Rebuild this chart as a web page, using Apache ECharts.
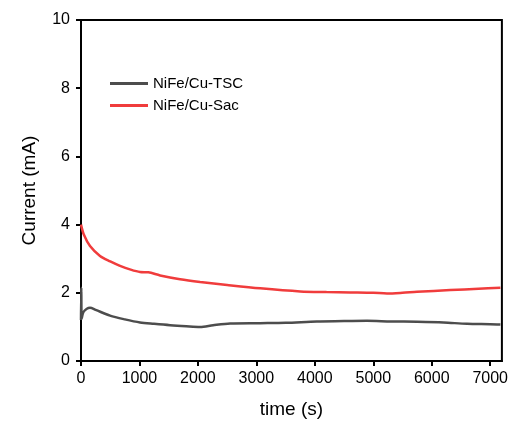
<!DOCTYPE html>
<html>
<head>
<meta charset="utf-8">
<script src="https://cdn.jsdelivr.net/npm/echarts@6/dist/echarts.min.js"></script>
<style>
  html, body { margin: 0; padding: 0; background: #fff; }
  #chart { width: 511px; height: 424px; }
</style>
</head>
<body>
<div id="chart"></div>
<script>
// values
var seriesNames = ['NiFe/Cu-TSC', 'NiFe/Cu-Sac'];
var tscData = [
  [0, 1.2], [5, 2.15], [12, 1.25], [40, 1.43], [100, 1.53], [154, 1.56], [250, 1.5],
  [497, 1.33], [750, 1.22], [1010, 1.13], [1250, 1.09], [1524, 1.05],
  [1800, 1.02], [2038, 1.0], [2260, 1.05], [2551, 1.1], [3065, 1.11],
  [3500, 1.12], [4036, 1.16], [4500, 1.17], [4892, 1.18], [5300, 1.16],
  [5748, 1.15], [6200, 1.13], [6604, 1.09], [7000, 1.08], [7175, 1.07]
];
var sacData = [
  [0, 4.0], [50, 3.7], [154, 3.37], [325, 3.08], [500, 2.92], [668, 2.79],
  [850, 2.68], [1010, 2.61], [1150, 2.6], [1353, 2.51], [1695, 2.4],
  [2038, 2.32], [2500, 2.23], [3065, 2.13], [3750, 2.04], [4200, 2.02],
  [4606, 2.01], [5000, 2.0], [5234, 1.98], [5500, 2.0], [5748, 2.03],
  [6318, 2.08], [6800, 2.12], [7175, 2.15]
];
var lineColors = ['#4d4d4d', '#f03c3c'];

var chart = echarts.init(document.getElementById('chart'));
var font = 'Liberation Sans, Arial, sans-serif';

chart.setOption({
  animation: false,
  grid: {
    left: 81, right: 9, top: 20, bottom: 62,
    show: true, borderColor: '#000', borderWidth: 2
  },
  legend: {
    orient: 'vertical',
    left: 105, top: 71,
    icon: 'rect',
    itemWidth: 38, itemHeight: 3, itemGap: 7,
    textStyle: { fontFamily: font, fontSize: 15, color: '#000' },
    data: seriesNames
  },
  xAxis: {
    type: 'value', min: 0, max: 7200, interval: 1000,
    name: 'time (s)', nameLocation: 'middle', nameGap: 39,
    nameTextStyle: { fontFamily: font, fontSize: 19, color: '#000' },
    axisLine: { lineStyle: { color: '#000', width: 2 } },
    axisTick: { length: 5, lineStyle: { width: 2 } },
    axisLabel: { fontFamily: font, fontSize: 16, color: '#000', margin: 10,
      formatter: function(v) { return String(v); } },
    splitLine: { show: false }
  },
  yAxis: {
    type: 'value', min: 0, max: 10, interval: 2,
    name: 'Current (mA)', nameLocation: 'middle', nameGap: 42,
    nameTextStyle: { fontFamily: font, fontSize: 19, color: '#000' },
    axisLine: { show: true, lineStyle: { color: '#000', width: 2 } },
    axisTick: { show: true, length: 5, lineStyle: { width: 2 } },
    axisLabel: { fontFamily: font, fontSize: 16, color: '#000', margin: 11 },
    splitLine: { show: false }
  },
  series: [
    {
      name: seriesNames[0], type: 'line', data: tscData, smooth: 0.3,
      symbol: 'none', color: lineColors[0], lineStyle: { width: 2.5 }
    },
    {
      name: seriesNames[1], type: 'line', data: sacData, smooth: 0.3,
      symbol: 'none', color: lineColors[1], lineStyle: { width: 2.5 }
    }
  ]
});
</script>
</body>
</html>
